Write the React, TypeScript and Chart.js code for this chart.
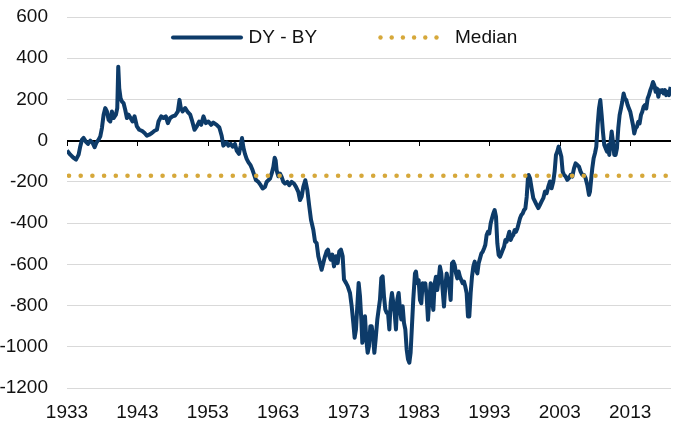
import React, { useEffect, useRef } from 'react';
import { Chart, registerables } from 'chart.js';

Chart.register(...registerables);

const years = [
  1933.00, 1933.47, 1933.95, 1934.28, 1934.65, 1934.89, 1935.13, 1935.36, 1935.70, 1935.98,
  1936.31, 1936.64, 1936.92, 1937.16, 1937.49, 1937.73, 1937.96, 1938.20, 1938.44, 1938.67,
  1938.91, 1939.15, 1939.38, 1939.62, 1939.95, 1940.14, 1940.28, 1940.42, 1940.61, 1940.80,
  1941.04, 1941.27, 1941.51, 1941.75, 1942.03, 1942.31, 1942.60, 1942.93, 1943.26, 1943.64,
  1944.02, 1944.35, 1944.68, 1945.06, 1945.44, 1945.77, 1946.00, 1946.38, 1946.71, 1947.04,
  1947.33, 1947.66, 1947.99, 1948.37, 1948.75, 1948.98, 1949.17, 1949.41, 1949.79, 1950.17,
  1950.50, 1950.73, 1951.11, 1951.44, 1951.77, 1952.06, 1952.39, 1952.72, 1953.09, 1953.47,
  1953.79, 1954.26, 1954.64, 1954.97, 1955.21, 1955.44, 1955.68, 1955.92, 1956.25, 1956.53,
  1956.86, 1957.10, 1957.43, 1957.67, 1957.86, 1958.05, 1958.28, 1958.52, 1958.76, 1959.09,
  1959.37, 1959.61, 1959.85, 1960.18, 1960.51, 1960.79, 1961.13, 1961.36, 1961.60, 1961.84,
  1962.07, 1962.31, 1962.50, 1962.64, 1962.78, 1963.02, 1963.26, 1963.49, 1963.73, 1963.97,
  1964.30, 1964.58, 1964.91, 1965.24, 1965.53, 1965.86, 1966.10, 1966.33, 1966.57, 1966.85,
  1967.14, 1967.42, 1967.66, 1967.99, 1968.23, 1968.46, 1968.70, 1968.94, 1969.17, 1969.41,
  1969.65, 1969.88, 1970.07, 1970.26, 1970.45, 1970.69, 1970.93, 1971.21, 1971.45, 1971.68,
  1971.92, 1972.16, 1972.35, 1972.63, 1972.87, 1973.20, 1973.44, 1973.67, 1973.86, 1974.05,
  1974.24, 1974.43, 1974.62, 1974.81, 1974.95, 1975.14, 1975.33, 1975.52, 1975.71, 1975.90,
  1976.09, 1976.28, 1976.47, 1976.66, 1976.84, 1977.08, 1977.27, 1977.46, 1977.65, 1977.84,
  1978.03, 1978.22, 1978.41, 1978.60, 1978.79, 1978.98, 1979.16, 1979.35, 1979.54, 1979.73,
  1979.92, 1980.11, 1980.30, 1980.49, 1980.68, 1980.87, 1981.06, 1981.25, 1981.44, 1981.63,
  1981.81, 1982.00, 1982.19, 1982.43, 1982.57, 1982.76, 1982.95, 1983.14, 1983.33, 1983.52,
  1983.71, 1983.90, 1984.09, 1984.28, 1984.47, 1984.66, 1984.85, 1985.04, 1985.23, 1985.41,
  1985.60, 1985.79, 1985.98, 1986.17, 1986.36, 1986.55, 1986.74, 1986.93, 1987.12, 1987.31,
  1987.50, 1987.69, 1987.88, 1988.07, 1988.26, 1988.44, 1988.63, 1988.82, 1989.01, 1989.20,
  1989.39, 1989.58, 1989.77, 1989.96, 1990.15, 1990.34, 1990.53, 1990.72, 1990.91, 1991.10,
  1991.29, 1991.48, 1991.67, 1991.86, 1992.05, 1992.24, 1992.42, 1992.61, 1992.80, 1992.99,
  1993.18, 1993.37, 1993.56, 1993.75, 1993.94, 1994.13, 1994.32, 1994.51, 1994.70, 1994.89,
  1995.08, 1995.27, 1995.45, 1995.64, 1995.83, 1996.02, 1996.21, 1996.40, 1996.59, 1996.78,
  1996.97, 1997.16, 1997.35, 1997.54, 1997.73, 1997.92, 1998.11, 1998.30, 1998.49, 1998.58,
  1998.77, 1999.00, 1999.24, 1999.48, 1999.71, 1999.95, 2000.19, 2000.42, 2000.66, 2000.90,
  2001.13, 2001.37, 2001.61, 2001.84, 2002.08, 2002.27, 2002.46, 2002.65, 2002.84, 2003.03,
  2003.22, 2003.41, 2003.60, 2003.84, 2004.07, 2004.31, 2004.54, 2004.78, 2005.02, 2005.25,
  2005.49, 2005.73, 2005.96, 2006.20, 2006.44, 2006.67, 2006.91, 2007.15, 2007.29, 2007.43,
  2007.62, 2007.81, 2008.00, 2008.19, 2008.38, 2008.57, 2008.76, 2008.95, 2009.13, 2009.32,
  2009.51, 2009.70, 2009.89, 2010.03, 2010.22, 2010.37, 2010.55, 2010.74, 2010.93, 2011.12,
  2011.31, 2011.50, 2011.69, 2011.88, 2012.07, 2012.26, 2012.45, 2012.64, 2012.83, 2013.02,
  2013.21, 2013.40, 2013.58, 2013.77, 2013.96, 2014.15, 2014.34, 2014.53, 2014.72, 2014.91,
  2015.10, 2015.29, 2015.48, 2015.67, 2015.86, 2016.05, 2016.24, 2016.43, 2016.62, 2016.81,
  2017.00, 2017.19, 2017.38, 2017.56, 2017.75, 2017.94, 2018.13, 2018.32, 2018.51, 2018.75,
];

const spread = [
  -48, -68, -84, -92, -68, -27, 5, 13, -6, -16,
  0, -11, -32, -11, 5, 21, 61, 126, 158, 142,
  101, 93, 142, 110, 126, 158, 359, 254, 206, 190,
  182, 150, 110, 126, 110, 93, 118, 69, 53, 48,
  37, 24, 29, 37, 48, 53, 93, 118, 110, 118,
  85, 110, 118, 122, 142, 198, 158, 142, 158, 138,
  126, 101, 53, 69, 93, 77, 118, 85, 93, 77,
  88, 77, 64, 24, -24, -16, -8, -24, -16, -29,
  -16, -48, -64, -24, 13, -32, -64, -88, -104, -120,
  -144, -168, -192, -200, -216, -232, -224, -200, -192, -184,
  -160, -128, -83, -96, -144, -173, -160, -176, -200, -208,
  -200, -216, -200, -208, -224, -248, -288, -272, -224, -192,
  -240, -320, -384, -432, -489, -497, -561, -594, -626, -594,
  -561, -537, -529, -561, -577, -553, -610, -561, -594, -537,
  -529, -561, -674, -690, -706, -739, -803, -884, -956, -916,
  -803, -690, -755, -868, -981, -932, -852, -965, -1029, -997,
  -900, -900, -948, -1029, -965, -868, -819, -771, -666, -658,
  -755, -819, -835, -835, -916, -787, -739, -787, -835, -916,
  -771, -739, -819, -868, -803, -884, -916, -1013, -1061, -1077,
  -1029, -900, -770, -644, -635, -692, -676, -773, -789, -692,
  -708, -692, -756, -869, -773, -692, -773, -821, -692, -660,
  -724, -676, -611, -644, -724, -805, -708, -644, -676, -708,
  -773, -595, -587, -603, -644, -668, -635, -660, -676, -692,
  -684, -708, -740, -853, -853, -740, -660, -611, -587, -627,
  -644, -595, -571, -547, -539, -523, -506, -458, -442, -450,
  -402, -377, -353, -337, -369, -498, -555, -563, -547, -531,
  -515, -482, -490, -466, -442, -482, -466, -458, -434, -442,
  -426, -402, -377, -361, -353, -337, -329, -273, -176, -166,
  -182, -231, -279, -295, -311, -327, -311, -295, -279, -247,
  -255, -223, -198, -231, -198, -150, -69, -53, -29, -53,
  -77, -150, -166, -174, -190, -182, -166, -174, -134, -110,
  -118, -126, -150, -166, -166, -182, -215, -263, -247, -198,
  -134, -85, -61, -29, 76, 156, 197, 124, 44, -21,
  -37, -53, -21, -69, -5, 44, -5, -69, -69, -37,
  60, 124, 156, 189, 229, 205, 197, 173, 156, 140,
  108, 76, 35, 60, 68, 92, 84, 124, 140, 165,
  173, 156, 205, 221, 245, 261, 285, 269, 237, 253,
  213, 245, 237, 245, 229, 245, 221, 237, 221, 261,
];

const medianValue = -170;
const xMin = 1933;
const xMax = 2018.8;
const xTickValues = [1933, 1943, 1953, 1963, 1973, 1983, 1993, 2003, 2013];
const yMin = -1200;
const yMax = 600;
const yStep = 200;
const seriesLabels = ['DY - BY', 'Median'];

const NAVY = '#0d3b69';
const GOLD = '#d6a83a';
const FONT = "'Liberation Sans', Arial, Helvetica, sans-serif";
const FONT_SIZE = 19;

const overlayPlugin = {
  id: 'overlay',
  beforeDatasetsDraw(chart: any) {
    const { ctx, scales } = chart;
    const xs = scales.x;
    const ys = scales.y;
    const y0 = Math.round(ys.getPixelForValue(0)) + 0.5;
    ctx.save();
    ctx.strokeStyle = '#000';
    ctx.lineWidth = 1;
    ctx.beginPath();
    ctx.moveTo(xs.left, y0);
    ctx.lineTo(xs.right, y0);
    xTickValues.forEach((v) => {
      const px = Math.round(xs.getPixelForValue(v)) + 0.5;
      ctx.moveTo(px, y0);
      ctx.lineTo(px, y0 + 4.5);
    });
    ctx.stroke();
    ctx.restore();
  },
  afterDraw(chart: any) {
    const { ctx } = chart;
    const ly = 37.5;
    ctx.save();
    ctx.strokeStyle = NAVY;
    ctx.lineWidth = 4;
    ctx.lineCap = 'round';
    ctx.beginPath();
    ctx.moveTo(173, ly);
    ctx.lineTo(241, ly);
    ctx.stroke();
    ctx.fillStyle = GOLD;
    for (let i = 0; i < 6; i++) {
      ctx.beginPath();
      ctx.arc(380.5 + i * 11.2, ly, 2.2, 0, Math.PI * 2);
      ctx.fill();
    }
    ctx.fillStyle = '#111';
    ctx.font = `${FONT_SIZE}px ${FONT}`;
    ctx.textBaseline = 'middle';
    ctx.textAlign = 'left';
    ctx.fillText(seriesLabels[0], 248.5, ly + 0.5);
    ctx.fillText(seriesLabels[1], 455, ly + 0.5);
    ctx.restore();
  },
};

export default function App() {
  const canvasRef = useRef<HTMLCanvasElement | null>(null);

  useEffect(() => {
    document.body.style.margin = '0';
    const canvas = canvasRef.current;
    if (!canvas) return;
    const chart = new Chart(canvas, {
      type: 'line',
      data: {
        datasets: [
          {
            label: seriesLabels[1],
            data: [
              { x: xMin, y: medianValue },
              { x: xMax, y: medianValue },
            ],
            borderColor: GOLD,
            borderWidth: 4.6,
            borderDash: [0, 11.7],
            borderDashOffset: -2,
            borderCapStyle: 'round',
            pointRadius: 0,
            fill: false,
            order: 0,
          },
          {
            label: seriesLabels[0],
            data: years.map((x, i) => ({ x, y: spread[i] })),
            borderColor: NAVY,
            borderWidth: 4,
            borderJoinStyle: 'round',
            pointRadius: 0,
            tension: 0,
            fill: false,
            order: 1,
          },
        ],
      },
      options: {
        animation: false,
        responsive: true,
        maintainAspectRatio: false,
        devicePixelRatio: 1,
        layout: { padding: { top: 17, right: 29, left: 0, bottom: 0 } },
        plugins: {
          legend: { display: false },
          tooltip: { enabled: false },
        },
        scales: {
          x: {
            type: 'linear',
            min: xMin,
            max: xMax,
            afterBuildTicks: (scale: any) => {
              scale.ticks = xTickValues.map((v) => ({ value: v }));
            },
            afterFit: (scale: any) => {
              scale.height = 52;
            },
            grid: { display: false, drawTicks: false },
            border: { display: false },
            ticks: {
              autoSkip: false,
              maxRotation: 0,
              padding: 13,
              color: '#111',
              font: { family: FONT, size: FONT_SIZE },
              callback: (v: any) => String(v),
            },
          },
          y: {
            type: 'linear',
            min: yMin,
            max: yMax,
            afterFit: (scale: any) => {
              scale.width = 67;
              scale.paddingTop = 0;
              scale.paddingBottom = 0;
            },
            grid: {
              drawTicks: false,
              color: (c: any) => (c.tick && c.tick.value === 0 ? '#000' : '#d9d9d9'),
              lineWidth: 1,
            },
            border: { display: false },
            ticks: {
              stepSize: yStep,
              padding: 19,
              color: '#111',
              font: { family: FONT, size: FONT_SIZE },
              callback: (v: any) => String(v),
            },
          },
        },
      },
      plugins: [overlayPlugin],
    });
    return () => chart.destroy();
  }, []);

  return (
    <div style={{ position: 'fixed', left: 0, top: 0, width: 700, height: 440 }}>
      <canvas ref={canvasRef} />
    </div>
  );
}
